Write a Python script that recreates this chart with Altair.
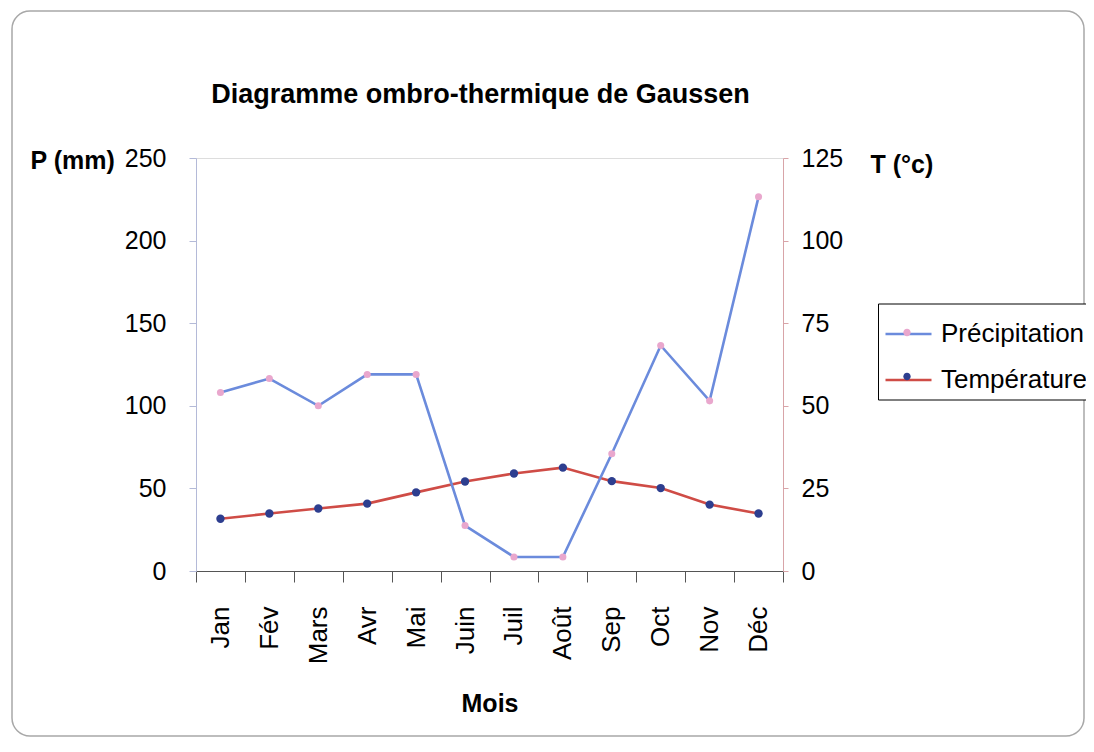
import altair as alt
import pandas as pd

# ---- data ----
mois = ["Jan", "Fév", "Mars", "Avr", "Mai", "Juin", "Juil", "Août", "Sep", "Oct", "Nov", "Déc"]
precipitation = [108, 116.5, 100, 119, 119, 27.5, 8.5, 8.5, 71, 136.5, 103, 226.5]
temperature = [15.8, 17.4, 18.9, 20.4, 23.8, 27.1, 29.5, 31.3, 27.2, 25.1, 20.1, 17.4]
series = ["Précipitation", "Température"]
marker_keys = ["Précipitation ", "Température "]
p_ticks = [0, 50, 100, 150, 200, 250]
t_ticks = [0, 25, 50, 75, 100, 125]
chart_title = "Diagramme ombro-thermique de Gaussen"

line_colors = ["#6b8bdc", "#cf4c46"]
marker_colors = ["#e9a7cd", "#2d3e8f"]

FONT = "Liberation Sans"
df = pd.DataFrame({"Mois": mois, "P": precipitation, "T": temperature})

W, H = 587, 413

x_enc = alt.X(
    "Mois:N", sort=mois, bandPosition=0.5,
    scale=alt.Scale(type="band", paddingInner=0, paddingOuter=0),
    axis=alt.Axis(
        title="Mois", labelAngle=-90, labelFontSize=26, labelFont=FONT, labelColor="black",
        labelPadding=24, tickSize=11, tickBand="extent", domainColor="#555555", tickColor="#555555",
        domainWidth=1.2, titleFontSize=25, titleFont=FONT, titleFontWeight="bold", titleColor="black",
        titleY=132, titleBaseline="middle",
    ),
)

left_axis = alt.Axis(
    orient="left", title="P (mm)", values=p_ticks, titleAngle=0, titleAlign="left",
    titleBaseline="middle", titleX=-166, titleY=2, titleFontSize=25, titleFont=FONT,
    titleFontWeight="bold", titleColor="black", labelFontSize=25, labelFont=FONT,
    labelColor="black", labelPadding=23, tickSize=7, domainColor="#b4bad8",
    tickColor="#b4bad8", grid=False,
)
right_axis = alt.Axis(
    orient="right", title="T (°c)", values=t_ticks, titleAngle=0, titleAlign="left",
    titleBaseline="middle", titleX=87, titleY=6, titleFontSize=25, titleFont=FONT,
    titleFontWeight="bold", titleColor="black", labelFontSize=25, labelFont=FONT,
    labelColor="black", labelPadding=13, tickSize=5, domainColor="#d8a4a8",
    tickColor="#d8a4a8", grid=False,
)

LX, LY = 682, 145.5
SYM = 2116
stroke_legend = alt.Legend(
    title=None, orient="none", legendX=LX, legendY=LY, symbolType="stroke",
    symbolSize=SYM, symbolStrokeWidth=2.5, labelFontSize=26, labelFont=FONT,
    labelColor="black", labelOffset=8, labelLimit=400, padding=6, rowPadding=8,
    strokeColor="black", fillColor="white", zindex=1,
)
fill_legend = alt.Legend(
    title=None, orient="none", legendX=LX, legendY=LY,
    symbolType="M-0.16,0A0.16,0.16,0,1,1,0.16,0A0.16,0.16,0,1,1,-0.16,0Z",
    symbolSize=SYM, symbolStrokeWidth=0, labelFontSize=26, labelFont=FONT,
    labelOpacity=0, labelExpr="''", labelOffset=8, labelLimit=400, padding=6, rowPadding=8, zindex=2,
)

stroke_scale = alt.Scale(domain=series, range=line_colors)
fill_scale = alt.Scale(domain=marker_keys, range=marker_colors)

base = alt.Chart(df)

p_scale = alt.Scale(domain=[0, 250], nice=False)
t_scale = alt.Scale(domain=[0, 125], nice=False)

line_p = base.transform_calculate(serie=f"'{series[0]}'").mark_line(strokeWidth=2.6).encode(
    x=x_enc,
    y=alt.Y("P:Q", scale=p_scale, axis=left_axis),
    stroke=alt.Stroke("serie:N", scale=stroke_scale, legend=stroke_legend),
)
pts_p = base.transform_calculate(marq=f"'{marker_keys[0]}'").mark_circle(size=50, opacity=1).encode(
    x=x_enc,
    y=alt.Y("P:Q", scale=p_scale, axis=left_axis),
    fill=alt.Fill("marq:N", scale=fill_scale, legend=fill_legend),
)
line_t = base.transform_calculate(serie=f"'{series[1]}'").mark_line(strokeWidth=2.6).encode(
    x=x_enc,
    y=alt.Y("T:Q", scale=t_scale, axis=right_axis),
    stroke=alt.Stroke("serie:N", scale=stroke_scale, legend=stroke_legend),
)
pts_t = base.transform_calculate(marq=f"'{marker_keys[1]}'").mark_circle(size=70, opacity=1).encode(
    x=x_enc,
    y=alt.Y("T:Q", scale=t_scale, axis=right_axis),
    fill=alt.Fill("marq:N", scale=fill_scale, legend=fill_legend),
)

border = alt.Chart(alt.Data(values=[{"a": 1}])).mark_rect(
    filled=False, stroke="#a8a8a8", strokeWidth=1.5, cornerRadius=18
).encode(
    x=alt.value(-184), x2=alt.value(888), y=alt.value(-147), y2=alt.value(578)
)

title_mark = alt.Chart(alt.Data(values=[{"t": chart_title}])).mark_text(
    font=FONT, fontSize=27, fontWeight="bold", color="black", align="center", baseline="alphabetic"
).encode(text="t:N", x=alt.value(W / 2 - 9), y=alt.value(-55))

left_layer = alt.layer(line_p, pts_p)
right_layer = alt.layer(line_t, pts_t)

chart = alt.layer(border, title_mark, right_layer, left_layer).resolve_scale(y="independent").properties(
    width=W, height=H,
    autosize=alt.AutoSizeParams(type="none"),
    padding={"left": 188, "top": 150, "right": 303, "bottom": 167},
).configure_view(stroke=None).configure(background="white")

chart.save("out.html", embed_options={"renderer": "svg", "actions": False})
